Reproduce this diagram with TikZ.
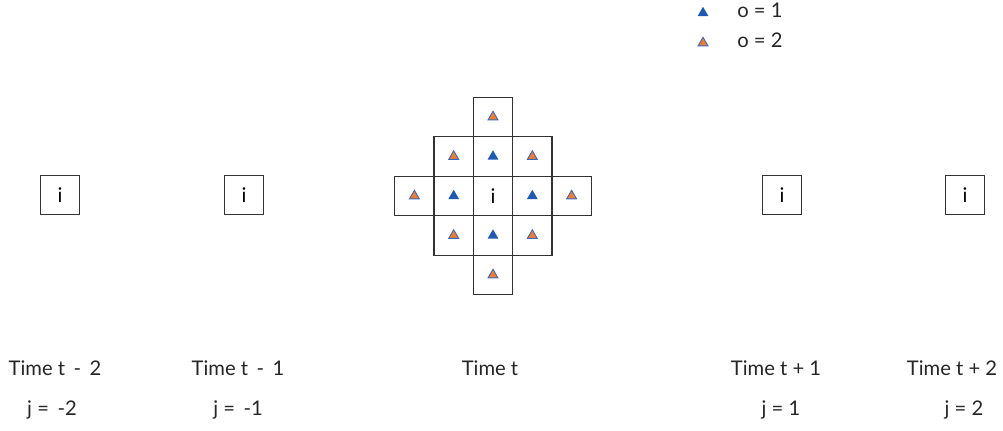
\documentclass[tikz,border=0pt]{standalone}
\usepackage{fontspec}
\setmainfont{Lato}
\usepackage{tikz}
\usetikzlibrary{shapes.geometric, positioning}
\definecolor{mydark}{RGB}{50,50,50}
\definecolor{myblue}{RGB}{30,90,175}
\definecolor{myorange}{RGB}{237,125,49}
\definecolor{myedge}{RGB}{60,105,190}
\tikzset{
  cell/.style={rectangle, draw=mydark, line width=0.75pt,
    minimum size=0.79cm, inner sep=0pt, font=\fontsize{11.5}{13}\selectfont},
  tri1/.style={regular polygon, regular polygon sides=3, fill=myblue,
    inner sep=0pt, minimum size=0.25cm},
  tri2/.style={regular polygon, regular polygon sides=3, fill=myorange,
    draw=myedge, line width=0.5pt, inner sep=0pt, minimum size=0.23cm},
  lbl/.style={font=\fontsize{11.5}{13}\selectfont, text=black!85,
    text height=1.6ex, text depth=0.4ex, inner sep=0pt}
}

\begin{document}
\begin{tikzpicture}[x=0.02cm, y=-0.02cm]
  \useasboundingbox (0,0) rectangle (1003,430);

  % legend
  \node[tri1] (k1) at (703,13) {};
  \node[tri2] (k2) at (703,43) {};
  \node[lbl, anchor=west] (k1t) at (737,12) {o = 1};
  \node[lbl, anchor=west] (k2t) at (737,42) {o = 2};

  % single cells
  \node[cell] (a1) at (60,195) {i};
  \node[cell] (a2) at (244,195) {i};
  \node[cell] (a4) at (782,195) {i};
  \node[cell] (a5) at (965,195) {i};

  % neighbourhood at time t
  \foreach \c/\r in {3/1, 2/2, 3/2, 4/2, 1/3, 2/3, 3/3, 4/3, 5/3, 2/4, 3/4, 4/4, 3/5} {
    \node[cell] (g-\c-\r) at ({493+39.3*(\c-3)},{196+39.5*(\r-3)}) {};
  }
  \node[cell, draw=none] (ci) at (g-3-3) {i};
  \foreach \c/\r in {3/2, 2/3, 4/3, 3/4}
    \node[tri1] (t-\c-\r) at (g-\c-\r) {};
  \foreach \c/\r in {3/1, 2/2, 4/2, 1/3, 5/3, 2/4, 4/4, 3/5}
    \node[tri2] (t-\c-\r) at (g-\c-\r) {};

  % time labels
  \node[lbl] (h1) at (55,370) {Time t\, -\, 2};
  \node[lbl] (h2) at (238,370) {Time t\, -\, 1};
  \node[lbl] (h3) at (490,370) {Time t};
  \node[lbl] (h4) at (776,370) {Time t + 1};
  \node[lbl] (h5) at (952,370) {Time t + 2};

  \node[lbl] (j1) at (52,410) {j =\, -2};
  \node[lbl] (j2) at (238,410) {j =\, -1};
  \node[lbl] (j4) at (781,410) {j = 1};
  \node[lbl] (j5) at (964,410) {j = 2};
\end{tikzpicture}
\end{document}
